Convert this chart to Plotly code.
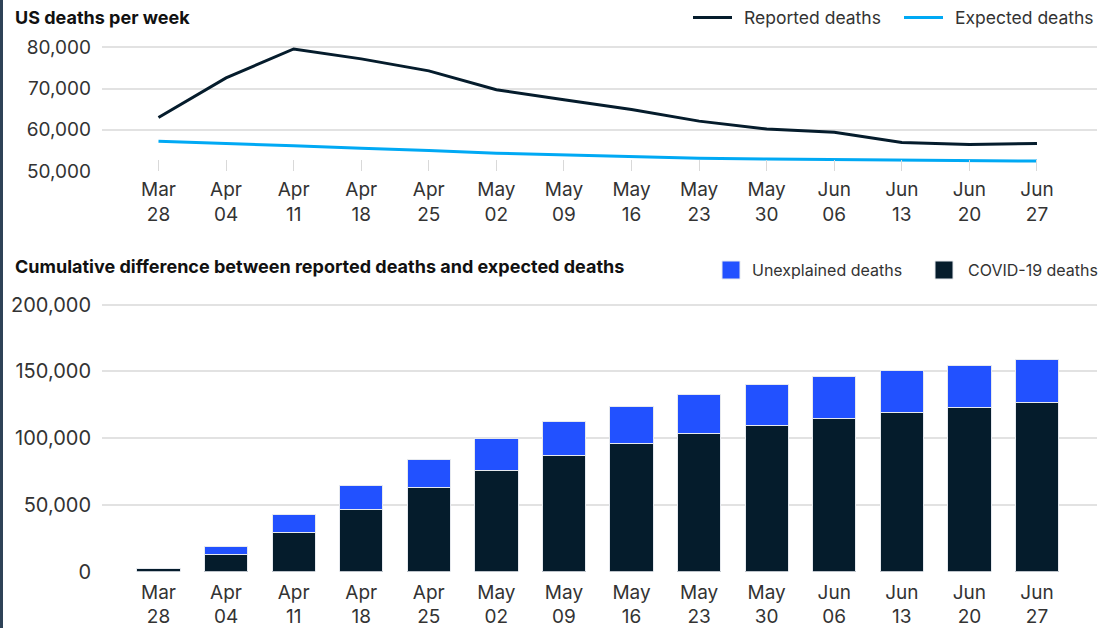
import plotly.graph_objects as go

weeks = ["Mar 28", "Apr 04", "Apr 11", "Apr 18", "Apr 25", "May 02", "May 09",
         "May 16", "May 23", "May 30", "Jun 06", "Jun 13", "Jun 20", "Jun 27"]
reported_deaths = [63000, 72600, 79600, 77200, 74300, 69700, 67300,
                   64900, 62100, 60200, 59400, 56900, 56400, 56700]
expected_deaths = [57200, 56700, 56100, 55500, 55000, 54300, 53900,
                   53500, 53100, 52900, 52800, 52600, 52600, 52400]
covid_deaths = [2600, 12800, 29300, 46800, 62800, 76000, 86900,
                96100, 103300, 109800, 114800, 119600, 123100, 126600]
unexplained_deaths = [0, 6200, 13200, 17500, 21000, 23500, 25900,
                      27700, 29800, 30500, 31700, 31400, 31700, 32400]
top_ticks = [50000, 60000, 70000, 80000]
bottom_ticks = [0, 50000, 100000, 150000, 200000]

NAVY = "#051c2c"
CYAN = "#00a9f4"
BLUE = "#2251ff"
GRID = "#e2e2e2"
TXT = "#333333"
FONT = "Inter, Liberation Sans, Arial, sans-serif"

W, H = 1100, 628
x_idx = list(range(len(weeks)))
tick_text = [w.replace(" ", "<br>") for w in weeks]


def px(x):
    return x / W


def py(y):
    return 1 - y / H


fig = go.Figure()
fig.add_trace(go.Scatter(x=x_idx, y=reported_deaths, mode="lines", name="Reported deaths",
                         line=dict(color=NAVY, width=3), xaxis="x", yaxis="y", showlegend=False))
fig.add_trace(go.Scatter(x=x_idx, y=expected_deaths, mode="lines", name="Expected deaths",
                         line=dict(color=CYAN, width=3), xaxis="x", yaxis="y", showlegend=False))
fig.add_trace(go.Bar(x=x_idx, y=covid_deaths, name="COVID-19 deaths",
                     marker=dict(color=NAVY, line=dict(color="#e6e9ee", width=1)),
                     xaxis="x2", yaxis="y2", showlegend=False))
fig.add_trace(go.Bar(x=x_idx, y=unexplained_deaths, name="Unexplained deaths",
                     marker=dict(color=BLUE, line=dict(color="#e6e9ee", width=1)),
                     xaxis="x2", yaxis="y2", showlegend=False))

x_range = [-0.836, 13.888]
x_dom = [px(102), px(1097)]
axis_font = dict(family=FONT, size=19, color=TXT)

common_x = dict(range=x_range, domain=x_dom, tickmode="array", tickvals=x_idx,
                ticktext=tick_text, tickfont=axis_font, showgrid=False,
                zeroline=False, showline=False, fixedrange=True, automargin=False)

fig.update_layout(
    template="none",
    width=W, height=H,
    margin=dict(l=0, r=0, t=0, b=0, pad=0, autoexpand=False),
    paper_bgcolor="white", plot_bgcolor="white",
    barmode="stack", bargap=0.36,
    font=dict(family=FONT, color=TXT),
    xaxis=dict(**common_x, anchor="y", ticks="inside", ticklen=11,
               tickcolor="#d9d9d9", tickwidth=1, ticklabelstandoff=5),
    yaxis=dict(domain=[py(171), py(39.1)], range=[50000, 82000], tickvals=top_ticks,
               tickformat=",", tickfont=axis_font, showgrid=True, gridcolor=GRID,
               gridwidth=1.5, zeroline=False, ticks="", ticklabelstandoff=10,
               anchor="x", fixedrange=True, automargin=False, showline=False),
    xaxis2=dict(**common_x, anchor="y2", ticks="", ticklabelstandoff=7),
    yaxis2=dict(domain=[py(571.7), py(298)], range=[0, 205000], tickvals=bottom_ticks,
                tickformat=",", tickfont=dict(family=FONT, size=20, color=TXT),
                showgrid=True, gridcolor=GRID, gridwidth=1.5, zeroline=False,
                ticks="", ticklabelstandoff=10, anchor="x2", fixedrange=True,
                automargin=False, showline=False),
    showlegend=False,
)

# left border strip
fig.add_shape(type="rect", xref="paper", yref="paper", x0=0, x1=px(3), y0=0, y1=1,
              fillcolor="#2e4257", line_width=0, layer="above")

title_font = dict(family=FONT, size=18, color="#111111")
fig.add_annotation(text="<b>US deaths per week</b>", xref="paper", yref="paper",
                   x=px(13), y=py(18), xanchor="left", yanchor="middle",
                   showarrow=False, font=title_font)
fig.add_annotation(text="<b>Cumulative difference between reported deaths and expected deaths</b>",
                   xref="paper", yref="paper", x=px(13), y=py(266), xanchor="left",
                   yanchor="middle", showarrow=False, font=title_font)

# top legend (lines)
for (x0, x1, xt, col, label) in [(693, 732, 742, NAVY, "Reported deaths"),
                                  (904, 943, 953, CYAN, "Expected deaths")]:
    fig.add_shape(type="line", xref="paper", yref="paper", x0=px(x0), x1=px(x1),
                  y0=py(17.5), y1=py(17.5), line=dict(color=col, width=3))
    fig.add_annotation(text=label, xref="paper", yref="paper", x=px(xt), y=py(18),
                       xanchor="left", yanchor="middle", showarrow=False,
                       font=dict(family=FONT, size=17.5, color=TXT))
# bottom legend (squares)
for (x0, x1, xt, col, label) in [(722, 740, 750, BLUE, "Unexplained deaths"),
                                  (935, 953, 966, NAVY, "COVID-19 deaths")]:
    fig.add_shape(type="rect", xref="paper", yref="paper", x0=px(x0), x1=px(x1),
                  y0=py(279), y1=py(261), fillcolor=col,
                  line=dict(color="#e6e9ee", width=1))
    fig.add_annotation(text=label, xref="paper", yref="paper", x=px(xt), y=py(269.5),
                       xanchor="left", yanchor="middle", showarrow=False,
                       font=dict(family=FONT, size=16, color=TXT))

post = """
document.documentElement.style.margin='0';
document.documentElement.style.overflow='hidden';
document.body.style.margin='0';
document.body.style.padding='0';
document.body.style.overflow='hidden';
"""

fig.write_html("out.html", post_script=post, config={"displayModeBar": False})
